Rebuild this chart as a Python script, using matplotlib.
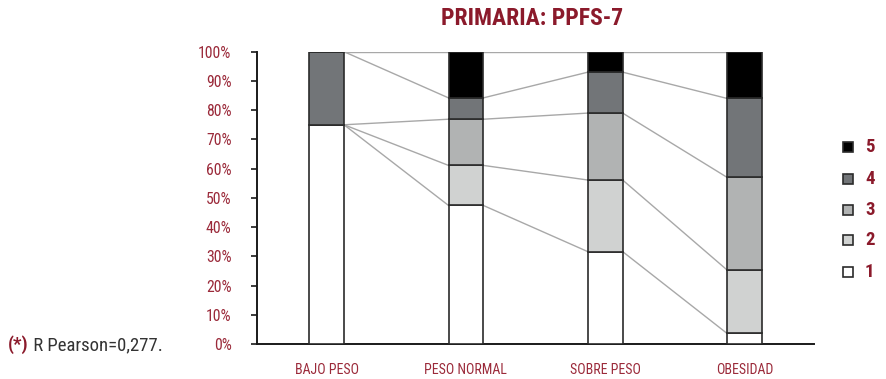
import matplotlib
matplotlib.use("Agg")
import matplotlib.pyplot as plt
from matplotlib.lines import Line2D
from matplotlib import font_manager
import numpy as np

narrow = [f for f in ["Liberation Sans Narrow", "DejaVu Sans Condensed",
                      "Roboto Condensed", "Open Sans Condensed"]
          if any(e.name == f for e in font_manager.fontManager.ttflist)]
plt.rcParams['font.family'] = narrow + ['Roboto', 'DejaVu Sans']

categories = ["BAJO PESO", "PESO NORMAL", "SOBRE PESO", "OBESIDAD"]
levels = ["1", "2", "3", "4", "5"]
# share of each PPFS-7 level per weight group (%)
level_1 = [75.0, 47.4, 31.6, 3.6]
level_2 = [0.0, 13.7, 24.5, 21.7]
level_3 = [0.0, 15.8, 22.9, 31.7]
level_4 = [25.0, 7.3, 14.0, 27.0]
level_5 = [0.0, 15.8, 7.0, 16.0]
title = "PRIMARIA: PPFS-7"
note_mark = "(*)"
note_text = " R Pearson=0,277."

series = [level_1, level_2, level_3, level_4, level_5]
colors = ["#ffffff", "#d0d2d1", "#b1b3b3", "#727578", "#000000"]
red = "#8b1a2b"
tick_red = "#9b2a3a"

fig = plt.figure(figsize=(8.86, 3.79), dpi=100)
ax = fig.add_axes([0.290, 0.0923, 0.629, 0.7713])

x = np.arange(len(categories))
width = 0.25
bottom = np.zeros(len(categories))
for vals, col in zip(series, colors):
    v = np.array(vals) / 100.0
    ax.bar(x, v, width, bottom=bottom, color=col, edgecolor="#2b2b2b",
           linewidth=1.2, zorder=3)
    top = bottom + v
    # series lines joining the upper edge of each segment between bars
    for i in range(len(categories) - 1):
        ax.plot([x[i] + width / 2, x[i + 1] - width / 2], [top[i], top[i + 1]],
                color="#a8a8a8", linewidth=1.0, zorder=2)
    bottom = top

ax.set_xlim(-0.5, len(categories) - 0.5)
ax.set_ylim(0, 1.0)
ax.set_yticks(np.arange(0, 1.01, 0.1))
ax.set_yticklabels([f"{int(round(t * 100))}%" for t in np.arange(0, 1.01, 0.1)])
ax.set_xticks(x)
ax.set_xticklabels(categories)
ax.tick_params(axis="y", colors="#1a1a1a", labelcolor=tick_red, labelsize=11.3,
               length=4.3, width=1.2, pad=14)
ax.tick_params(axis="x", length=0, labelcolor=tick_red, labelsize=10, pad=14)
for s in ["top", "right"]:
    ax.spines[s].set_visible(False)
for s in ["left", "bottom"]:
    ax.spines[s].set_linewidth(1.4)
    ax.spines[s].set_color("#1a1a1a")

fig.text(0.601, 0.95, title, ha="center", va="center", fontsize=17,
         fontweight="bold", color=red)

t1 = fig.text(0.009, 0.09, note_mark, ha="left", va="center", fontsize=13.5,
              fontweight="bold", color=red)
fig.canvas.draw()
bb = t1.get_window_extent()
fig.text(bb.x1 / fig.bbox.width, 0.09, note_text, ha="left", va="center",
         fontsize=13.5, color="#333333")

# legend: level 5 on top, level 1 at the bottom
W, H = 886.0, 379.0
leg_y = [272, 240, 210, 179, 147]
for lab, col, yy in zip(levels, colors, leg_y):
    fig.add_artist(Line2D([848 / W], [1 - yy / H], marker="s", linestyle="none",
                          markersize=7.2, markerfacecolor=col,
                          markeredgecolor="#2b2b2b", markeredgewidth=1.2,
                          transform=fig.transFigure))
    fig.text(865 / W, 1 - yy / H, lab, ha="left", va="center", fontsize=13.5,
             fontweight="bold", color=red)

fig.savefig("out.png", dpi=100)
